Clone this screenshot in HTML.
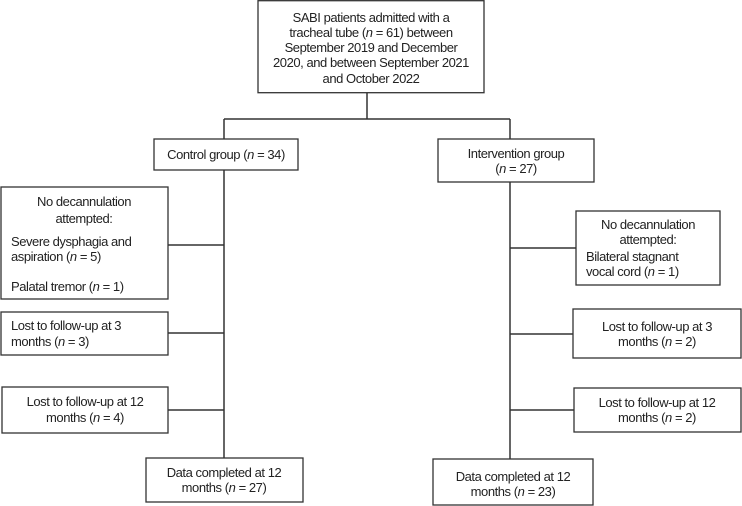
<!DOCTYPE html>
<html><head><meta charset="utf-8"><style>
html,body{margin:0;padding:0;background:#fff;}
svg{display:block;}
text{font-family:"Liberation Sans",Arial,sans-serif;font-size:13px;letter-spacing:-0.45px;fill:#222;}
.c{text-anchor:middle;}
rect{fill:#fff;stroke:#333;stroke-width:1.3;}
line{stroke:#333;stroke-width:1.5;}
</style></head><body>
<svg width="742" height="506" viewBox="0 0 742 506" xmlns="http://www.w3.org/2000/svg">
<!-- connectors -->
<line x1="367" y1="93" x2="367" y2="119"/>
<line x1="224" y1="119" x2="510" y2="119"/>
<line x1="224" y1="119" x2="224" y2="139"/>
<line x1="510" y1="119" x2="510" y2="139"/>
<line x1="224" y1="170" x2="224" y2="458"/>
<line x1="510" y1="182" x2="510" y2="459"/>
<line x1="168" y1="245" x2="224" y2="245"/>
<line x1="168" y1="333" x2="224" y2="333"/>
<line x1="168" y1="410" x2="224" y2="410"/>
<line x1="510" y1="248" x2="576" y2="248"/>
<line x1="510" y1="334" x2="573" y2="334"/>
<line x1="510" y1="410" x2="574" y2="410"/>

<!-- top -->
<rect x="258" y="0.7" width="226" height="92"/>
<text class="c" x="371" y="22">SABI patients admitted with a</text>
<text class="c" x="371" y="37">tracheal tube (<tspan font-style="italic">n</tspan> = 61) between</text>
<text class="c" x="371" y="52">September 2019 and December</text>
<text class="c" x="371" y="67">2020, and between September 2021</text>
<text class="c" x="371" y="83">and October 2022</text>

<!-- control -->
<rect x="154" y="139" width="144" height="31"/>
<text class="c" x="226" y="159">Control group (<tspan font-style="italic">n</tspan> = 34)</text>

<!-- intervention -->
<rect x="438" y="139" width="156" height="43"/>
<text class="c" x="516" y="158">Intervention group</text>
<text class="c" x="516" y="173">(<tspan font-style="italic">n</tspan> = 27)</text>

<!-- left no decann -->
<rect x="1" y="187" width="167" height="112"/>
<text class="c" x="84" y="206">No decannulation</text>
<text class="c" x="84" y="223">attempted:</text>
<text x="11" y="246">Severe dysphagia and</text>
<text x="11" y="261">aspiration (<tspan font-style="italic">n</tspan> = 5)</text>
<text x="11" y="291">Palatal tremor (<tspan font-style="italic">n</tspan> = 1)</text>

<!-- left lost 3 -->
<rect x="1" y="312" width="167" height="43"/>
<text x="11" y="330">Lost to follow-up at 3</text>
<text x="11" y="346">months (<tspan font-style="italic">n</tspan> = 3)</text>

<!-- left lost 12 -->
<rect x="2" y="387" width="166" height="46"/>
<text class="c" x="85" y="406">Lost to follow-up at 12</text>
<text class="c" x="85" y="422">months (<tspan font-style="italic">n</tspan> = 4)</text>

<!-- left data -->
<rect x="146" y="458" width="157" height="44"/>
<text class="c" x="224" y="477">Data completed at 12</text>
<text class="c" x="224" y="492">months (<tspan font-style="italic">n</tspan> = 27)</text>

<!-- right no decann -->
<rect x="576" y="211" width="144" height="74"/>
<text class="c" x="648" y="229">No decannulation</text>
<text class="c" x="648" y="244">attempted:</text>
<text x="586" y="261">Bilateral stagnant</text>
<text x="586" y="276">vocal cord (<tspan font-style="italic">n</tspan> = 1)</text>

<!-- right lost 3 -->
<rect x="573" y="309" width="168" height="49"/>
<text class="c" x="657" y="331">Lost to follow-up at 3</text>
<text class="c" x="657" y="346">months (<tspan font-style="italic">n</tspan> = 2)</text>

<!-- right lost 12 -->
<rect x="574" y="388" width="167" height="44"/>
<text class="c" x="657" y="407">Lost to follow-up at 12</text>
<text class="c" x="657" y="422">months (<tspan font-style="italic">n</tspan> = 2)</text>

<!-- right data -->
<rect x="433" y="459" width="160" height="46"/>
<text class="c" x="513" y="481">Data completed at 12</text>
<text class="c" x="513" y="496">months (<tspan font-style="italic">n</tspan> = 23)</text>
</svg>
</body></html>
